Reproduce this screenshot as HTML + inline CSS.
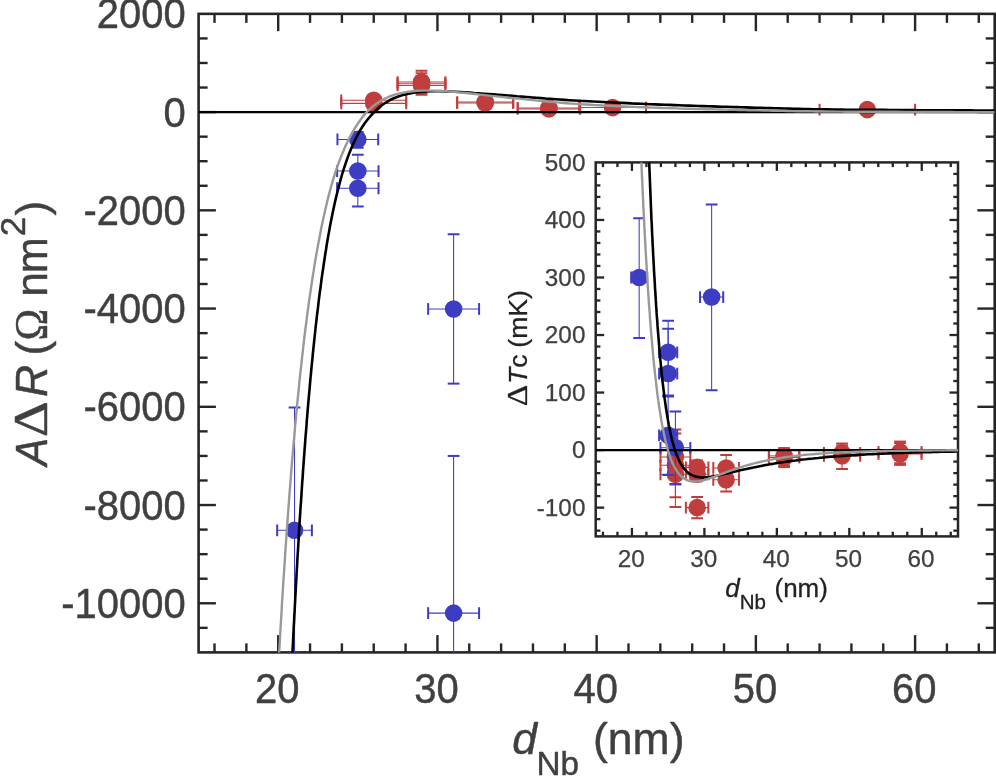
<!DOCTYPE html>
<html lang="en"><head><meta charset="utf-8"><title>A&#916;R versus d_Nb</title>
<style>html,body{margin:0;padding:0;background:#fff;overflow:hidden}svg{display:block}text{font-family:"Liberation Sans", sans-serif;fill:#404040;stroke:#404040;stroke-width:.45px;stroke-linejoin:round}.in text,text.in{stroke-width:.25px}.ib text,text.ib{fill:#222;stroke:#222;stroke-width:.3px}</style></head><body>
<svg width="996" height="776" viewBox="0 0 996 776">
<rect width="996" height="776" fill="#fff"/>
<defs><clipPath id="cm"><rect x="198.6" y="13.86" width="796.1" height="638.54"/></clipPath>
<clipPath id="ci"><rect x="595.7" y="162.4" width="362.3" height="374"/></clipPath></defs>
<g stroke="#262626" stroke-width="2.4"><line x1="214.52" y1="652.4" x2="214.52" y2="643.4"/><line x1="214.52" y1="13.86" x2="214.52" y2="22.86"/><line x1="246.37" y1="652.4" x2="246.37" y2="643.4"/><line x1="246.37" y1="13.86" x2="246.37" y2="22.86"/><line x1="310.05" y1="652.4" x2="310.05" y2="643.4"/><line x1="310.05" y1="13.86" x2="310.05" y2="22.86"/><line x1="341.9" y1="652.4" x2="341.9" y2="643.4"/><line x1="341.9" y1="13.86" x2="341.9" y2="22.86"/><line x1="373.74" y1="652.4" x2="373.74" y2="643.4"/><line x1="373.74" y1="13.86" x2="373.74" y2="22.86"/><line x1="405.59" y1="652.4" x2="405.59" y2="643.4"/><line x1="405.59" y1="13.86" x2="405.59" y2="22.86"/><line x1="469.27" y1="652.4" x2="469.27" y2="643.4"/><line x1="469.27" y1="13.86" x2="469.27" y2="22.86"/><line x1="501.12" y1="652.4" x2="501.12" y2="643.4"/><line x1="501.12" y1="13.86" x2="501.12" y2="22.86"/><line x1="532.96" y1="652.4" x2="532.96" y2="643.4"/><line x1="532.96" y1="13.86" x2="532.96" y2="22.86"/><line x1="564.81" y1="652.4" x2="564.81" y2="643.4"/><line x1="564.81" y1="13.86" x2="564.81" y2="22.86"/><line x1="628.49" y1="652.4" x2="628.49" y2="643.4"/><line x1="628.49" y1="13.86" x2="628.49" y2="22.86"/><line x1="660.34" y1="652.4" x2="660.34" y2="643.4"/><line x1="660.34" y1="13.86" x2="660.34" y2="22.86"/><line x1="692.18" y1="652.4" x2="692.18" y2="643.4"/><line x1="692.18" y1="13.86" x2="692.18" y2="22.86"/><line x1="724.03" y1="652.4" x2="724.03" y2="643.4"/><line x1="724.03" y1="13.86" x2="724.03" y2="22.86"/><line x1="787.71" y1="652.4" x2="787.71" y2="643.4"/><line x1="787.71" y1="13.86" x2="787.71" y2="22.86"/><line x1="819.56" y1="652.4" x2="819.56" y2="643.4"/><line x1="819.56" y1="13.86" x2="819.56" y2="22.86"/><line x1="851.4" y1="652.4" x2="851.4" y2="643.4"/><line x1="851.4" y1="13.86" x2="851.4" y2="22.86"/><line x1="883.25" y1="652.4" x2="883.25" y2="643.4"/><line x1="883.25" y1="13.86" x2="883.25" y2="22.86"/><line x1="946.93" y1="652.4" x2="946.93" y2="643.4"/><line x1="946.93" y1="13.86" x2="946.93" y2="22.86"/><line x1="978.78" y1="652.4" x2="978.78" y2="643.4"/><line x1="978.78" y1="13.86" x2="978.78" y2="22.86"/><line x1="278.21" y1="652.4" x2="278.21" y2="635.1"/><line x1="278.21" y1="13.86" x2="278.21" y2="31.16"/><line x1="437.43" y1="652.4" x2="437.43" y2="635.1"/><line x1="437.43" y1="13.86" x2="437.43" y2="31.16"/><line x1="596.65" y1="652.4" x2="596.65" y2="635.1"/><line x1="596.65" y1="13.86" x2="596.65" y2="31.16"/><line x1="755.87" y1="652.4" x2="755.87" y2="635.1"/><line x1="755.87" y1="13.86" x2="755.87" y2="31.16"/><line x1="915.09" y1="652.4" x2="915.09" y2="635.1"/><line x1="915.09" y1="13.86" x2="915.09" y2="31.16"/><line x1="198.6" y1="627.84" x2="207.6" y2="627.84"/><line x1="994.7" y1="627.84" x2="985.7" y2="627.84"/><line x1="198.6" y1="578.72" x2="207.6" y2="578.72"/><line x1="994.7" y1="578.72" x2="985.7" y2="578.72"/><line x1="198.6" y1="554.16" x2="207.6" y2="554.16"/><line x1="994.7" y1="554.16" x2="985.7" y2="554.16"/><line x1="198.6" y1="529.6" x2="207.6" y2="529.6"/><line x1="994.7" y1="529.6" x2="985.7" y2="529.6"/><line x1="198.6" y1="480.49" x2="207.6" y2="480.49"/><line x1="994.7" y1="480.49" x2="985.7" y2="480.49"/><line x1="198.6" y1="455.93" x2="207.6" y2="455.93"/><line x1="994.7" y1="455.93" x2="985.7" y2="455.93"/><line x1="198.6" y1="431.37" x2="207.6" y2="431.37"/><line x1="994.7" y1="431.37" x2="985.7" y2="431.37"/><line x1="198.6" y1="382.25" x2="207.6" y2="382.25"/><line x1="994.7" y1="382.25" x2="985.7" y2="382.25"/><line x1="198.6" y1="357.69" x2="207.6" y2="357.69"/><line x1="994.7" y1="357.69" x2="985.7" y2="357.69"/><line x1="198.6" y1="333.13" x2="207.6" y2="333.13"/><line x1="994.7" y1="333.13" x2="985.7" y2="333.13"/><line x1="198.6" y1="284.01" x2="207.6" y2="284.01"/><line x1="994.7" y1="284.01" x2="985.7" y2="284.01"/><line x1="198.6" y1="259.45" x2="207.6" y2="259.45"/><line x1="994.7" y1="259.45" x2="985.7" y2="259.45"/><line x1="198.6" y1="234.89" x2="207.6" y2="234.89"/><line x1="994.7" y1="234.89" x2="985.7" y2="234.89"/><line x1="198.6" y1="185.77" x2="207.6" y2="185.77"/><line x1="994.7" y1="185.77" x2="985.7" y2="185.77"/><line x1="198.6" y1="161.22" x2="207.6" y2="161.22"/><line x1="994.7" y1="161.22" x2="985.7" y2="161.22"/><line x1="198.6" y1="136.66" x2="207.6" y2="136.66"/><line x1="994.7" y1="136.66" x2="985.7" y2="136.66"/><line x1="198.6" y1="87.54" x2="207.6" y2="87.54"/><line x1="994.7" y1="87.54" x2="985.7" y2="87.54"/><line x1="198.6" y1="62.98" x2="207.6" y2="62.98"/><line x1="994.7" y1="62.98" x2="985.7" y2="62.98"/><line x1="198.6" y1="38.42" x2="207.6" y2="38.42"/><line x1="994.7" y1="38.42" x2="985.7" y2="38.42"/><line x1="198.6" y1="603.28" x2="215.9" y2="603.28"/><line x1="994.7" y1="603.28" x2="977.4" y2="603.28"/><line x1="198.6" y1="505.04" x2="215.9" y2="505.04"/><line x1="994.7" y1="505.04" x2="977.4" y2="505.04"/><line x1="198.6" y1="406.81" x2="215.9" y2="406.81"/><line x1="994.7" y1="406.81" x2="977.4" y2="406.81"/><line x1="198.6" y1="308.57" x2="215.9" y2="308.57"/><line x1="994.7" y1="308.57" x2="977.4" y2="308.57"/><line x1="198.6" y1="210.33" x2="215.9" y2="210.33"/><line x1="994.7" y1="210.33" x2="977.4" y2="210.33"/><line x1="198.6" y1="112.1" x2="215.9" y2="112.1"/><line x1="994.7" y1="112.1" x2="977.4" y2="112.1"/></g>
<rect x="198.6" y="13.86" width="796.1" height="638.54" fill="none" stroke="#262626" stroke-width="2.6"/>
<g clip-path="url(#cm)">
<line x1="341.26" y1="100.31" x2="406.22" y2="100.31" stroke="#c03d3d" stroke-width="1.05"/><line x1="341.26" y1="94.41" x2="341.26" y2="106.21" stroke="#c03d3d" stroke-width="2.0"/><line x1="406.22" y1="94.41" x2="406.22" y2="106.21" stroke="#c03d3d" stroke-width="2.0"/><line x1="373.74" y1="97.36" x2="373.74" y2="103.26" stroke="#c03d3d" stroke-width="1.05"/><line x1="367.84" y1="97.36" x2="379.64" y2="97.36" stroke="#c03d3d" stroke-width="2.0"/><line x1="367.84" y1="103.26" x2="379.64" y2="103.26" stroke="#c03d3d" stroke-width="2.0"/>
<line x1="341.26" y1="103.35" x2="406.22" y2="103.35" stroke="#c03d3d" stroke-width="1.05"/><line x1="341.26" y1="97.45" x2="341.26" y2="109.25" stroke="#c03d3d" stroke-width="2.0"/><line x1="406.22" y1="97.45" x2="406.22" y2="109.25" stroke="#c03d3d" stroke-width="2.0"/><line x1="373.74" y1="100.41" x2="373.74" y2="106.3" stroke="#c03d3d" stroke-width="1.05"/><line x1="367.84" y1="100.41" x2="379.64" y2="100.41" stroke="#c03d3d" stroke-width="2.0"/><line x1="367.84" y1="106.3" x2="379.64" y2="106.3" stroke="#c03d3d" stroke-width="2.0"/>
<line x1="397.62" y1="82.04" x2="445.39" y2="82.04" stroke="#c03d3d" stroke-width="1.05"/><line x1="397.62" y1="76.14" x2="397.62" y2="87.94" stroke="#c03d3d" stroke-width="2.0"/><line x1="445.39" y1="76.14" x2="445.39" y2="87.94" stroke="#c03d3d" stroke-width="2.0"/><line x1="421.51" y1="70.84" x2="421.51" y2="91.37" stroke="#c03d3d" stroke-width="1.05"/><line x1="415.61" y1="70.84" x2="427.41" y2="70.84" stroke="#c03d3d" stroke-width="2.0"/><line x1="415.61" y1="91.37" x2="427.41" y2="91.37" stroke="#c03d3d" stroke-width="2.0"/>
<line x1="397.62" y1="83.71" x2="445.39" y2="83.71" stroke="#c03d3d" stroke-width="1.05"/><line x1="397.62" y1="77.81" x2="397.62" y2="89.61" stroke="#c03d3d" stroke-width="2.0"/><line x1="445.39" y1="77.81" x2="445.39" y2="89.61" stroke="#c03d3d" stroke-width="2.0"/><line x1="421.51" y1="73.15" x2="421.51" y2="93.04" stroke="#c03d3d" stroke-width="1.05"/><line x1="415.61" y1="73.15" x2="427.41" y2="73.15" stroke="#c03d3d" stroke-width="2.0"/><line x1="415.61" y1="93.04" x2="427.41" y2="93.04" stroke="#c03d3d" stroke-width="2.0"/>
<line x1="397.62" y1="85.43" x2="445.39" y2="85.43" stroke="#c03d3d" stroke-width="1.05"/><line x1="397.62" y1="79.53" x2="397.62" y2="91.33" stroke="#c03d3d" stroke-width="2.0"/><line x1="445.39" y1="79.53" x2="445.39" y2="91.33" stroke="#c03d3d" stroke-width="2.0"/><line x1="421.51" y1="76.09" x2="421.51" y2="94.76" stroke="#c03d3d" stroke-width="1.05"/><line x1="415.61" y1="76.09" x2="427.41" y2="76.09" stroke="#c03d3d" stroke-width="2.0"/><line x1="415.61" y1="94.76" x2="427.41" y2="94.76" stroke="#c03d3d" stroke-width="2.0"/>
<line x1="457.17" y1="102.03" x2="513.22" y2="102.03" stroke="#c03d3d" stroke-width="1.05"/><line x1="457.17" y1="96.13" x2="457.17" y2="107.93" stroke="#c03d3d" stroke-width="2.0"/><line x1="513.22" y1="96.13" x2="513.22" y2="107.93" stroke="#c03d3d" stroke-width="2.0"/><line x1="485.2" y1="100.06" x2="485.2" y2="103.99" stroke="#c03d3d" stroke-width="1.05"/><line x1="479.3" y1="100.06" x2="491.1" y2="100.06" stroke="#c03d3d" stroke-width="2.0"/><line x1="479.3" y1="103.99" x2="491.1" y2="103.99" stroke="#c03d3d" stroke-width="2.0"/>
<line x1="457.17" y1="103.01" x2="513.22" y2="103.01" stroke="#c03d3d" stroke-width="1.05"/><line x1="457.17" y1="97.11" x2="457.17" y2="108.91" stroke="#c03d3d" stroke-width="2.0"/><line x1="513.22" y1="97.11" x2="513.22" y2="108.91" stroke="#c03d3d" stroke-width="2.0"/><line x1="485.2" y1="101.05" x2="485.2" y2="104.97" stroke="#c03d3d" stroke-width="1.05"/><line x1="479.3" y1="101.05" x2="491.1" y2="101.05" stroke="#c03d3d" stroke-width="2.0"/><line x1="479.3" y1="104.97" x2="491.1" y2="104.97" stroke="#c03d3d" stroke-width="2.0"/>
<line x1="517.68" y1="107.92" x2="580.09" y2="107.92" stroke="#c03d3d" stroke-width="1.05"/><line x1="517.68" y1="102.02" x2="517.68" y2="113.82" stroke="#c03d3d" stroke-width="2.0"/><line x1="580.09" y1="102.02" x2="580.09" y2="113.82" stroke="#c03d3d" stroke-width="2.0"/><line x1="548.88" y1="106.45" x2="548.88" y2="109.4" stroke="#c03d3d" stroke-width="1.05"/><line x1="542.98" y1="106.45" x2="554.78" y2="106.45" stroke="#c03d3d" stroke-width="2.0"/><line x1="542.98" y1="109.4" x2="554.78" y2="109.4" stroke="#c03d3d" stroke-width="2.0"/>
<line x1="517.68" y1="108.9" x2="580.09" y2="108.9" stroke="#c03d3d" stroke-width="1.05"/><line x1="517.68" y1="103" x2="517.68" y2="114.8" stroke="#c03d3d" stroke-width="2.0"/><line x1="580.09" y1="103" x2="580.09" y2="114.8" stroke="#c03d3d" stroke-width="2.0"/><line x1="548.88" y1="107.43" x2="548.88" y2="110.38" stroke="#c03d3d" stroke-width="1.05"/><line x1="542.98" y1="107.43" x2="554.78" y2="107.43" stroke="#c03d3d" stroke-width="2.0"/><line x1="542.98" y1="110.38" x2="554.78" y2="110.38" stroke="#c03d3d" stroke-width="2.0"/>
<line x1="579.14" y1="107.58" x2="646.01" y2="107.58" stroke="#c03d3d" stroke-width="1.05"/><line x1="579.14" y1="101.68" x2="579.14" y2="113.48" stroke="#c03d3d" stroke-width="2.0"/><line x1="646.01" y1="101.68" x2="646.01" y2="113.48" stroke="#c03d3d" stroke-width="2.0"/><line x1="612.57" y1="106.1" x2="612.57" y2="109.05" stroke="#c03d3d" stroke-width="1.05"/><line x1="606.67" y1="106.1" x2="618.47" y2="106.1" stroke="#c03d3d" stroke-width="2.0"/><line x1="606.67" y1="109.05" x2="618.47" y2="109.05" stroke="#c03d3d" stroke-width="2.0"/>
<line x1="819.56" y1="109.64" x2="915.09" y2="109.64" stroke="#c03d3d" stroke-width="1.05"/><line x1="819.56" y1="103.74" x2="819.56" y2="115.54" stroke="#c03d3d" stroke-width="2.0"/><line x1="915.09" y1="103.74" x2="915.09" y2="115.54" stroke="#c03d3d" stroke-width="2.0"/><line x1="867.32" y1="108.17" x2="867.32" y2="111.11" stroke="#c03d3d" stroke-width="1.05"/><line x1="861.42" y1="108.17" x2="873.22" y2="108.17" stroke="#c03d3d" stroke-width="2.0"/><line x1="861.42" y1="111.11" x2="873.22" y2="111.11" stroke="#c03d3d" stroke-width="2.0"/>
<circle cx="373.74" cy="100.31" r="8.8" fill="#c03d3d"/>
<circle cx="373.74" cy="103.35" r="8.8" fill="#c03d3d"/>
<circle cx="421.51" cy="82.04" r="8.8" fill="#c03d3d"/>
<circle cx="421.51" cy="83.71" r="8.8" fill="#c03d3d"/>
<circle cx="421.51" cy="85.43" r="8.8" fill="#c03d3d"/>
<circle cx="485.2" cy="102.03" r="8.8" fill="#c03d3d"/>
<circle cx="485.2" cy="103.01" r="8.8" fill="#c03d3d"/>
<circle cx="548.88" cy="107.92" r="8.8" fill="#c03d3d"/>
<circle cx="548.88" cy="108.9" r="8.8" fill="#c03d3d"/>
<circle cx="612.57" cy="107.58" r="8.8" fill="#c03d3d"/>
<circle cx="867.32" cy="109.64" r="8.8" fill="#c03d3d"/>
<line x1="277.18" y1="530.29" x2="311.89" y2="530.29" stroke="#3d3dc4" stroke-width="1.05"/><line x1="277.18" y1="524.39" x2="277.18" y2="536.19" stroke="#3d3dc4" stroke-width="2.0"/><line x1="311.89" y1="524.39" x2="311.89" y2="536.19" stroke="#3d3dc4" stroke-width="2.0"/><line x1="294.53" y1="407.5" x2="294.53" y2="653.09" stroke="#3d3dc4" stroke-width="1.05"/><line x1="288.63" y1="407.5" x2="300.43" y2="407.5" stroke="#3d3dc4" stroke-width="2.0"/><line x1="288.63" y1="653.09" x2="300.43" y2="653.09" stroke="#3d3dc4" stroke-width="2.0"/>
<line x1="337.44" y1="139.41" x2="378.2" y2="139.41" stroke="#3d3dc4" stroke-width="1.05"/><line x1="337.44" y1="133.51" x2="337.44" y2="145.31" stroke="#3d3dc4" stroke-width="2.0"/><line x1="378.2" y1="133.51" x2="378.2" y2="145.31" stroke="#3d3dc4" stroke-width="2.0"/><line x1="357.82" y1="132.04" x2="357.82" y2="147.76" stroke="#3d3dc4" stroke-width="1.05"/><line x1="351.92" y1="132.04" x2="363.72" y2="132.04" stroke="#3d3dc4" stroke-width="2.0"/><line x1="351.92" y1="147.76" x2="363.72" y2="147.76" stroke="#3d3dc4" stroke-width="2.0"/>
<line x1="337.12" y1="171.04" x2="378.52" y2="171.04" stroke="#3d3dc4" stroke-width="1.05"/><line x1="337.12" y1="165.14" x2="337.12" y2="176.94" stroke="#3d3dc4" stroke-width="2.0"/><line x1="378.52" y1="165.14" x2="378.52" y2="176.94" stroke="#3d3dc4" stroke-width="2.0"/><line x1="357.82" y1="154.83" x2="357.82" y2="187.25" stroke="#3d3dc4" stroke-width="1.05"/><line x1="351.92" y1="154.83" x2="363.72" y2="154.83" stroke="#3d3dc4" stroke-width="2.0"/><line x1="351.92" y1="187.25" x2="363.72" y2="187.25" stroke="#3d3dc4" stroke-width="2.0"/>
<line x1="337.12" y1="188.23" x2="378.52" y2="188.23" stroke="#3d3dc4" stroke-width="1.05"/><line x1="337.12" y1="182.33" x2="337.12" y2="194.13" stroke="#3d3dc4" stroke-width="2.0"/><line x1="378.52" y1="182.33" x2="378.52" y2="194.13" stroke="#3d3dc4" stroke-width="2.0"/><line x1="357.82" y1="170.06" x2="357.82" y2="206.4" stroke="#3d3dc4" stroke-width="1.05"/><line x1="351.92" y1="170.06" x2="363.72" y2="170.06" stroke="#3d3dc4" stroke-width="2.0"/><line x1="351.92" y1="206.4" x2="363.72" y2="206.4" stroke="#3d3dc4" stroke-width="2.0"/>
<line x1="428.13" y1="308.96" x2="479.08" y2="308.96" stroke="#3d3dc4" stroke-width="1.05"/><line x1="428.13" y1="303.06" x2="428.13" y2="314.86" stroke="#3d3dc4" stroke-width="2.0"/><line x1="479.08" y1="303.06" x2="479.08" y2="314.86" stroke="#3d3dc4" stroke-width="2.0"/><line x1="453.61" y1="234.3" x2="453.61" y2="383.62" stroke="#3d3dc4" stroke-width="1.05"/><line x1="447.71" y1="234.3" x2="459.51" y2="234.3" stroke="#3d3dc4" stroke-width="2.0"/><line x1="447.71" y1="383.62" x2="459.51" y2="383.62" stroke="#3d3dc4" stroke-width="2.0"/>
<line x1="428.13" y1="613.11" x2="479.08" y2="613.11" stroke="#3d3dc4" stroke-width="1.05"/><line x1="428.13" y1="607.21" x2="428.13" y2="619.01" stroke="#3d3dc4" stroke-width="2.0"/><line x1="479.08" y1="607.21" x2="479.08" y2="619.01" stroke="#3d3dc4" stroke-width="2.0"/><line x1="453.61" y1="455.93" x2="453.61" y2="770.28" stroke="#3d3dc4" stroke-width="1.05"/><line x1="447.71" y1="455.93" x2="459.51" y2="455.93" stroke="#3d3dc4" stroke-width="2.0"/><line x1="447.71" y1="770.28" x2="459.51" y2="770.28" stroke="#3d3dc4" stroke-width="2.0"/>
<circle cx="294.53" cy="530.29" r="8.8" fill="#3d3dc4"/>
<circle cx="357.82" cy="139.41" r="8.8" fill="#3d3dc4"/>
<circle cx="357.82" cy="171.04" r="8.8" fill="#3d3dc4"/>
<circle cx="357.82" cy="188.23" r="8.8" fill="#3d3dc4"/>
<circle cx="453.61" cy="308.96" r="8.8" fill="#3d3dc4"/>
<circle cx="453.61" cy="613.11" r="8.8" fill="#3d3dc4"/>
<line x1="198.6" y1="112.1" x2="994.7" y2="112.1" stroke="#000" stroke-width="2.2"/>
<path d="M289.8,711.8 L290.0,707.0 L290.2,702.2 L290.4,697.5 L290.6,692.7 L290.8,687.9 L291.0,683.1 L291.3,678.4 L291.5,673.6 L291.7,668.8 L291.9,664.0 L292.2,659.3 L292.4,654.5 L292.6,649.7 L292.9,644.9 L293.1,640.2 L293.3,635.4 L293.6,630.6 L293.8,625.8 L294.1,621.1 L294.3,616.3 L294.6,611.5 L294.8,606.8 L295.1,602.0 L295.3,597.2 L295.6,592.4 L295.8,587.7 L296.1,582.9 L296.4,578.1 L296.6,573.3 L296.9,568.6 L297.2,563.8 L297.4,559.0 L297.7,554.3 L298.0,549.5 L298.3,544.7 L298.6,539.9 L298.8,535.2 L299.1,530.4 L299.4,525.6 L299.7,520.9 L300.0,516.1 L300.3,511.3 L300.6,506.5 L301.0,501.8 L301.3,497.0 L301.6,492.2 L301.9,487.5 L302.2,482.7 L302.6,477.9 L302.9,473.2 L303.2,468.4 L303.6,463.6 L303.9,458.9 L304.3,454.1 L304.6,449.3 L305.0,444.6 L305.3,439.8 L305.7,435.0 L306.1,430.3 L306.5,425.5 L306.8,420.7 L307.2,416.0 L307.6,411.2 L308.0,406.4 L308.4,401.7 L308.8,396.9 L309.3,392.2 L309.7,387.4 L310.1,382.6 L310.5,377.9 L311.0,373.1 L311.4,368.4 L311.9,363.6 L312.4,358.8 L312.8,354.1 L313.3,349.3 L313.8,344.6 L314.3,339.8 L314.8,335.1 L315.3,330.3 L315.8,325.6 L316.4,320.8 L316.9,316.1 L317.5,311.3 L318.1,306.6 L318.6,301.8 L319.2,297.1 L319.8,292.3 L320.5,287.6 L321.1,282.9 L321.7,278.1 L322.4,273.4 L323.1,268.7 L323.8,263.9 L324.5,259.2 L325.2,254.5 L326.0,249.8 L326.7,245.0 L327.5,240.3 L328.3,235.6 L329.2,230.9 L330.0,226.2 L330.9,221.5 L331.9,216.8 L332.8,212.1 L333.8,207.5 L334.8,202.8 L335.9,198.1 L337.0,193.5 L338.2,188.9 L339.4,184.2 L340.6,179.6 L341.9,175.0 L343.3,170.4 L344.8,165.9 L346.3,161.4 L347.9,156.9 L349.6,152.4 L351.4,148.0 L353.3,143.6 L355.4,139.3 L357.6,135.0 L359.9,130.8 L362.4,126.8 L365.1,122.8 L368.0,119.0 L371.1,115.4 L374.4,111.9 L377.8,108.6 L381.5,105.5 L385.4,102.8 L389.5,100.3 L393.8,98.3 L398.3,96.5 L402.8,95.1 L407.4,93.9 L412.1,93.0 L416.9,92.3 L421.6,91.9 L426.4,91.5 L431.2,91.3 L436.0,91.3 L440.7,91.3 L445.5,91.4 L450.3,91.6 L455.1,91.8 L459.8,92.0 L464.6,92.3 L469.4,92.6 L474.1,93.0 L478.9,93.3 L483.7,93.7 L488.4,94.0 L493.2,94.4 L498.0,94.8 L502.7,95.1 L507.5,95.5 L512.3,95.9 L517.0,96.3 L521.8,96.6 L526.6,97.0 L531.3,97.4 L536.1,97.7 L540.9,98.1 L545.6,98.5 L550.4,98.8 L555.2,99.2 L559.9,99.5 L564.7,99.9 L569.5,100.2 L574.2,100.5 L579.0,100.8 L583.8,101.0 L588.6,101.3 L593.3,101.5 L598.1,101.8 L602.9,102.0 L607.7,102.2 L612.4,102.4 L617.2,102.7 L622.0,102.9 L626.8,103.1 L631.5,103.4 L636.3,103.6 L641.1,103.8 L645.9,104.0 L650.6,104.2 L655.4,104.4 L660.2,104.6 L665.0,104.8 L669.7,104.9 L674.5,105.1 L679.3,105.3 L684.1,105.5 L688.8,105.6 L693.6,105.8 L698.4,106.0 L703.2,106.1 L708.0,106.3 L712.7,106.4 L717.5,106.6 L722.3,106.7 L727.1,106.8 L731.8,107.0 L736.6,107.1 L741.4,107.3 L746.2,107.4 L751.0,107.6 L755.7,107.7 L760.5,107.8 L765.3,108.0 L770.1,108.1 L774.8,108.3 L779.6,108.4 L784.4,108.5 L789.2,108.6 L794.0,108.8 L798.7,108.9 L803.5,109.0 L808.3,109.1 L813.1,109.2 L817.8,109.3 L822.6,109.4 L827.4,109.4 L832.2,109.5 L837.0,109.6 L841.7,109.6 L846.5,109.7 L851.3,109.7 L856.1,109.7 L860.9,109.8 L865.6,109.8 L870.4,109.8 L875.2,109.9 L880.0,109.9 L884.8,109.9 L889.5,110.0 L894.3,110.0 L899.1,110.0 L903.9,110.1 L908.7,110.1 L913.4,110.1 L918.2,110.2 L923.0,110.2 L927.8,110.2 L932.6,110.2 L937.3,110.3 L942.1,110.3 L946.9,110.3 L951.7,110.3 L956.5,110.4 L961.2,110.4 L966.0,110.4 L970.8,110.4 L975.6,110.5 L980.4,110.5 L985.1,110.5 L989.9,110.5 L994.7,110.6" fill="none" stroke="#000" stroke-width="2.6" stroke-linejoin="round"/>
<path d="M276.0,712.4 L276.2,707.6 L276.5,702.8 L276.7,698.0 L277.0,693.2 L277.2,688.3 L277.5,683.5 L277.7,678.7 L278.0,673.9 L278.2,669.1 L278.5,664.3 L278.8,659.5 L279.0,654.7 L279.3,649.9 L279.6,645.1 L279.9,640.3 L280.1,635.5 L280.4,630.7 L280.7,625.8 L281.0,621.0 L281.3,616.2 L281.6,611.4 L281.8,606.6 L282.1,601.8 L282.4,597.0 L282.7,592.2 L283.0,587.4 L283.3,582.6 L283.6,577.8 L284.0,573.0 L284.3,568.2 L284.6,563.4 L284.9,558.6 L285.2,553.8 L285.5,549.0 L285.9,544.1 L286.2,539.3 L286.5,534.5 L286.9,529.7 L287.2,524.9 L287.6,520.1 L287.9,515.3 L288.3,510.5 L288.6,505.7 L289.0,500.9 L289.3,496.1 L289.7,491.3 L290.1,486.5 L290.5,481.7 L290.8,476.9 L291.2,472.1 L291.6,467.3 L292.0,462.5 L292.4,457.7 L292.8,452.9 L293.2,448.1 L293.6,443.3 L294.1,438.5 L294.5,433.7 L294.9,428.9 L295.3,424.1 L295.8,419.3 L296.2,414.5 L296.7,409.8 L297.1,405.0 L297.6,400.2 L298.1,395.4 L298.6,390.6 L299.0,385.8 L299.5,381.0 L300.0,376.2 L300.5,371.4 L301.1,366.6 L301.6,361.9 L302.1,357.1 L302.7,352.3 L303.2,347.5 L303.8,342.7 L304.3,337.9 L304.9,333.2 L305.5,328.4 L306.1,323.6 L306.7,318.8 L307.3,314.0 L308.0,309.3 L308.6,304.5 L309.3,299.7 L310.0,295.0 L310.7,290.2 L311.4,285.4 L312.1,280.7 L312.8,275.9 L313.6,271.2 L314.3,266.4 L315.1,261.7 L315.9,256.9 L316.7,252.2 L317.6,247.4 L318.5,242.7 L319.4,238.0 L320.3,233.2 L321.2,228.5 L322.2,223.8 L323.2,219.1 L324.2,214.4 L325.3,209.7 L326.4,205.0 L327.5,200.3 L328.7,195.6 L329.9,191.0 L331.2,186.3 L332.5,181.7 L333.9,177.1 L335.3,172.5 L336.9,167.9 L338.5,163.4 L340.2,158.9 L341.9,154.4 L343.8,150.0 L345.7,145.6 L347.8,141.2 L350.0,136.9 L352.3,132.7 L354.7,128.5 L357.3,124.4 L360.0,120.5 L362.8,116.6 L366.0,112.9 L369.3,109.5 L372.9,106.3 L376.8,103.4 L380.8,100.8 L385.0,98.5 L389.4,96.5 L394.0,94.9 L398.6,93.6 L403.3,92.6 L408.1,91.8 L412.8,91.2 L417.6,90.8 L422.4,90.6 L427.3,90.6 L432.1,90.6 L436.9,90.8 L441.7,91.0 L446.5,91.3 L451.3,91.7 L456.1,92.1 L460.9,92.6 L465.7,93.0 L470.5,93.5 L475.3,94.0 L480.1,94.6 L484.8,95.1 L489.6,95.6 L494.4,96.1 L499.2,96.6 L504.0,97.1 L508.8,97.7 L513.6,98.2 L518.4,98.6 L523.2,99.1 L527.9,99.6 L532.7,100.1 L537.5,100.6 L542.3,101.0 L547.1,101.5 L551.9,101.9 L556.7,102.4 L561.5,102.8 L566.3,103.2 L571.1,103.6 L575.9,103.9 L580.7,104.2 L585.5,104.5 L590.3,104.8 L595.1,105.1 L599.9,105.3 L604.7,105.6 L609.6,105.8 L614.4,106.0 L619.2,106.2 L624.0,106.5 L628.8,106.7 L633.6,106.9 L638.4,107.1 L643.2,107.3 L648.0,107.5 L652.9,107.6 L657.7,107.8 L662.5,108.0 L667.3,108.1 L672.1,108.3 L676.9,108.4 L681.7,108.6 L686.5,108.7 L691.4,108.8 L696.2,109.0 L701.0,109.1 L705.8,109.2 L710.6,109.3 L715.4,109.4 L720.2,109.5 L725.1,109.6 L729.9,109.8 L734.7,109.9 L739.5,110.0 L744.3,110.1 L749.1,110.2 L753.9,110.3 L758.8,110.4 L763.6,110.5 L768.4,110.6 L773.2,110.7 L778.0,110.8 L782.8,110.9 L787.6,111.0 L792.5,111.1 L797.3,111.2 L802.1,111.3 L806.9,111.4 L811.7,111.4 L816.5,111.5 L821.3,111.5 L826.2,111.6 L831.0,111.6 L835.8,111.6 L840.6,111.6 L845.4,111.7 L850.2,111.7 L855.1,111.7 L859.9,111.7 L864.7,111.7 L869.5,111.7 L874.3,111.8 L879.1,111.8 L883.9,111.8 L888.8,111.8 L893.6,111.8 L898.4,111.8 L903.2,111.9 L908.0,111.9 L912.8,111.9 L917.7,111.9 L922.5,111.9 L927.3,112.0 L932.1,112.0 L936.9,112.0 L941.7,112.0 L946.5,112.0 L951.4,112.0 L956.2,112.1 L961.0,112.1 L965.8,112.1 L970.6,112.1 L975.4,112.1 L980.3,112.1 L985.1,112.1 L989.9,112.1 L994.7,112.2" fill="none" stroke="#999999" stroke-width="2.4" stroke-linejoin="round"/>
</g>
<text transform="translate(277.31,703) scale(0.95,1)" font-size="42.1" text-anchor="middle">20</text>
<text transform="translate(436.53,703) scale(0.95,1)" font-size="42.1" text-anchor="middle">30</text>
<text transform="translate(595.75,703) scale(0.95,1)" font-size="42.1" text-anchor="middle">40</text>
<text transform="translate(754.97,703) scale(0.95,1)" font-size="42.1" text-anchor="middle">50</text>
<text transform="translate(914.19,703) scale(0.95,1)" font-size="42.1" text-anchor="middle">60</text>
<text transform="translate(185.8,28.36) scale(0.95,1)" font-size="42.1" text-anchor="end">2000</text>
<text transform="translate(185.8,126.6) scale(0.95,1)" font-size="42.1" text-anchor="end">0</text>
<text transform="translate(185.8,224.83) scale(0.95,1)" font-size="42.1" text-anchor="end">-2000</text>
<text transform="translate(185.8,323.07) scale(0.95,1)" font-size="42.1" text-anchor="end">-4000</text>
<text transform="translate(185.8,421.31) scale(0.95,1)" font-size="42.1" text-anchor="end">-6000</text>
<text transform="translate(185.8,519.54) scale(0.95,1)" font-size="42.1" text-anchor="end">-8000</text>
<text transform="translate(185.8,617.78) scale(0.95,1)" font-size="42.1" text-anchor="end">-10000</text>
<text x="512.3" y="753.8" font-size="44.5"><tspan font-style="italic">d</tspan><tspan font-size="33.3" dy="21" dx="-0.5">Nb</tspan><tspan dy="-21" dx="1.5"> (nm)</tspan></text>
<g transform="translate(47.2,0) rotate(-90)" font-size="44.5">
<text transform="translate(-465.7,0) scale(0.94,1)" x="0" y="0" font-style="italic">A</text>
<text transform="translate(-437.3,0) scale(1.18,1)" x="0" y="0" font-size="47.5" style="font-family:'Liberation Serif','DejaVu Serif',serif">&#916;</text>
<text x="-397" y="0" font-style="italic">R</text>
<text x="-355.5" y="0">(</text>
<text transform="translate(-340.6,0) scale(0.94,1)" x="0" y="0" font-size="45.5" style="font-family:'Liberation Serif','DejaVu Serif',serif">&#937;</text>
<text x="-296.8" y="0">n</text>
<text transform="translate(-273.2,0) scale(0.97,1)" x="0" y="0">m</text>
<text x="-236.3" y="-22.2" font-size="35">2</text>
<text x="-215.5" y="0">)</text>
</g>
<rect x="595.7" y="162.4" width="362.3" height="374" fill="#fff"/>
<g stroke="#262626" stroke-width="2.3"><line x1="602.95" y1="536.4" x2="602.95" y2="531.7"/><line x1="602.95" y1="162.4" x2="602.95" y2="167.1"/><line x1="617.44" y1="536.4" x2="617.44" y2="531.7"/><line x1="617.44" y1="162.4" x2="617.44" y2="167.1"/><line x1="646.42" y1="536.4" x2="646.42" y2="531.7"/><line x1="646.42" y1="162.4" x2="646.42" y2="167.1"/><line x1="660.91" y1="536.4" x2="660.91" y2="531.7"/><line x1="660.91" y1="162.4" x2="660.91" y2="167.1"/><line x1="675.41" y1="536.4" x2="675.41" y2="531.7"/><line x1="675.41" y1="162.4" x2="675.41" y2="167.1"/><line x1="689.9" y1="536.4" x2="689.9" y2="531.7"/><line x1="689.9" y1="162.4" x2="689.9" y2="167.1"/><line x1="718.88" y1="536.4" x2="718.88" y2="531.7"/><line x1="718.88" y1="162.4" x2="718.88" y2="167.1"/><line x1="733.37" y1="536.4" x2="733.37" y2="531.7"/><line x1="733.37" y1="162.4" x2="733.37" y2="167.1"/><line x1="747.87" y1="536.4" x2="747.87" y2="531.7"/><line x1="747.87" y1="162.4" x2="747.87" y2="167.1"/><line x1="762.36" y1="536.4" x2="762.36" y2="531.7"/><line x1="762.36" y1="162.4" x2="762.36" y2="167.1"/><line x1="791.34" y1="536.4" x2="791.34" y2="531.7"/><line x1="791.34" y1="162.4" x2="791.34" y2="167.1"/><line x1="805.83" y1="536.4" x2="805.83" y2="531.7"/><line x1="805.83" y1="162.4" x2="805.83" y2="167.1"/><line x1="820.33" y1="536.4" x2="820.33" y2="531.7"/><line x1="820.33" y1="162.4" x2="820.33" y2="167.1"/><line x1="834.82" y1="536.4" x2="834.82" y2="531.7"/><line x1="834.82" y1="162.4" x2="834.82" y2="167.1"/><line x1="863.8" y1="536.4" x2="863.8" y2="531.7"/><line x1="863.8" y1="162.4" x2="863.8" y2="167.1"/><line x1="878.29" y1="536.4" x2="878.29" y2="531.7"/><line x1="878.29" y1="162.4" x2="878.29" y2="167.1"/><line x1="892.79" y1="536.4" x2="892.79" y2="531.7"/><line x1="892.79" y1="162.4" x2="892.79" y2="167.1"/><line x1="907.28" y1="536.4" x2="907.28" y2="531.7"/><line x1="907.28" y1="162.4" x2="907.28" y2="167.1"/><line x1="936.26" y1="536.4" x2="936.26" y2="531.7"/><line x1="936.26" y1="162.4" x2="936.26" y2="167.1"/><line x1="950.75" y1="536.4" x2="950.75" y2="531.7"/><line x1="950.75" y1="162.4" x2="950.75" y2="167.1"/><line x1="631.93" y1="536.4" x2="631.93" y2="527.9"/><line x1="631.93" y1="162.4" x2="631.93" y2="170.9"/><line x1="704.39" y1="536.4" x2="704.39" y2="527.9"/><line x1="704.39" y1="162.4" x2="704.39" y2="170.9"/><line x1="776.85" y1="536.4" x2="776.85" y2="527.9"/><line x1="776.85" y1="162.4" x2="776.85" y2="170.9"/><line x1="849.31" y1="536.4" x2="849.31" y2="527.9"/><line x1="849.31" y1="162.4" x2="849.31" y2="170.9"/><line x1="921.77" y1="536.4" x2="921.77" y2="527.9"/><line x1="921.77" y1="162.4" x2="921.77" y2="170.9"/><line x1="595.7" y1="530.65" x2="600.4" y2="530.65"/><line x1="958" y1="530.65" x2="953.3" y2="530.65"/><line x1="595.7" y1="519.14" x2="600.4" y2="519.14"/><line x1="958" y1="519.14" x2="953.3" y2="519.14"/><line x1="595.7" y1="496.12" x2="600.4" y2="496.12"/><line x1="958" y1="496.12" x2="953.3" y2="496.12"/><line x1="595.7" y1="484.62" x2="600.4" y2="484.62"/><line x1="958" y1="484.62" x2="953.3" y2="484.62"/><line x1="595.7" y1="473.11" x2="600.4" y2="473.11"/><line x1="958" y1="473.11" x2="953.3" y2="473.11"/><line x1="595.7" y1="461.6" x2="600.4" y2="461.6"/><line x1="958" y1="461.6" x2="953.3" y2="461.6"/><line x1="595.7" y1="438.58" x2="600.4" y2="438.58"/><line x1="958" y1="438.58" x2="953.3" y2="438.58"/><line x1="595.7" y1="427.08" x2="600.4" y2="427.08"/><line x1="958" y1="427.08" x2="953.3" y2="427.08"/><line x1="595.7" y1="415.57" x2="600.4" y2="415.57"/><line x1="958" y1="415.57" x2="953.3" y2="415.57"/><line x1="595.7" y1="404.06" x2="600.4" y2="404.06"/><line x1="958" y1="404.06" x2="953.3" y2="404.06"/><line x1="595.7" y1="381.05" x2="600.4" y2="381.05"/><line x1="958" y1="381.05" x2="953.3" y2="381.05"/><line x1="595.7" y1="369.54" x2="600.4" y2="369.54"/><line x1="958" y1="369.54" x2="953.3" y2="369.54"/><line x1="595.7" y1="358.03" x2="600.4" y2="358.03"/><line x1="958" y1="358.03" x2="953.3" y2="358.03"/><line x1="595.7" y1="346.52" x2="600.4" y2="346.52"/><line x1="958" y1="346.52" x2="953.3" y2="346.52"/><line x1="595.7" y1="323.51" x2="600.4" y2="323.51"/><line x1="958" y1="323.51" x2="953.3" y2="323.51"/><line x1="595.7" y1="312" x2="600.4" y2="312"/><line x1="958" y1="312" x2="953.3" y2="312"/><line x1="595.7" y1="300.49" x2="600.4" y2="300.49"/><line x1="958" y1="300.49" x2="953.3" y2="300.49"/><line x1="595.7" y1="288.98" x2="600.4" y2="288.98"/><line x1="958" y1="288.98" x2="953.3" y2="288.98"/><line x1="595.7" y1="265.97" x2="600.4" y2="265.97"/><line x1="958" y1="265.97" x2="953.3" y2="265.97"/><line x1="595.7" y1="254.46" x2="600.4" y2="254.46"/><line x1="958" y1="254.46" x2="953.3" y2="254.46"/><line x1="595.7" y1="242.95" x2="600.4" y2="242.95"/><line x1="958" y1="242.95" x2="953.3" y2="242.95"/><line x1="595.7" y1="231.45" x2="600.4" y2="231.45"/><line x1="958" y1="231.45" x2="953.3" y2="231.45"/><line x1="595.7" y1="208.43" x2="600.4" y2="208.43"/><line x1="958" y1="208.43" x2="953.3" y2="208.43"/><line x1="595.7" y1="196.92" x2="600.4" y2="196.92"/><line x1="958" y1="196.92" x2="953.3" y2="196.92"/><line x1="595.7" y1="185.42" x2="600.4" y2="185.42"/><line x1="958" y1="185.42" x2="953.3" y2="185.42"/><line x1="595.7" y1="173.91" x2="600.4" y2="173.91"/><line x1="958" y1="173.91" x2="953.3" y2="173.91"/><line x1="595.7" y1="507.63" x2="604.2" y2="507.63"/><line x1="958" y1="507.63" x2="949.5" y2="507.63"/><line x1="595.7" y1="450.09" x2="604.2" y2="450.09"/><line x1="958" y1="450.09" x2="949.5" y2="450.09"/><line x1="595.7" y1="392.55" x2="604.2" y2="392.55"/><line x1="958" y1="392.55" x2="949.5" y2="392.55"/><line x1="595.7" y1="335.02" x2="604.2" y2="335.02"/><line x1="958" y1="335.02" x2="949.5" y2="335.02"/><line x1="595.7" y1="277.48" x2="604.2" y2="277.48"/><line x1="958" y1="277.48" x2="949.5" y2="277.48"/><line x1="595.7" y1="219.94" x2="604.2" y2="219.94"/><line x1="958" y1="219.94" x2="949.5" y2="219.94"/></g>
<rect x="595.7" y="162.4" width="362.3" height="374" fill="none" stroke="#262626" stroke-width="2.5"/>
<g clip-path="url(#ci)">
<line x1="660.48" y1="457" x2="690.33" y2="457" stroke="#c03d3d" stroke-width="1.05"/><line x1="660.48" y1="451.1" x2="660.48" y2="462.9" stroke="#c03d3d" stroke-width="2.0"/><line x1="690.33" y1="451.1" x2="690.33" y2="462.9" stroke="#c03d3d" stroke-width="2.0"/><line x1="675.41" y1="429.38" x2="675.41" y2="484.62" stroke="#c03d3d" stroke-width="1.05"/><line x1="669.51" y1="429.38" x2="681.31" y2="429.38" stroke="#c03d3d" stroke-width="2.0"/><line x1="669.51" y1="484.62" x2="681.31" y2="484.62" stroke="#c03d3d" stroke-width="2.0"/>
<line x1="660.48" y1="465.34" x2="690.33" y2="465.34" stroke="#c03d3d" stroke-width="1.05"/><line x1="660.48" y1="459.44" x2="660.48" y2="471.24" stroke="#c03d3d" stroke-width="2.0"/><line x1="690.33" y1="459.44" x2="690.33" y2="471.24" stroke="#c03d3d" stroke-width="2.0"/><line x1="675.41" y1="433.41" x2="675.41" y2="497.27" stroke="#c03d3d" stroke-width="1.05"/><line x1="669.51" y1="433.41" x2="681.31" y2="433.41" stroke="#c03d3d" stroke-width="2.0"/><line x1="669.51" y1="497.27" x2="681.31" y2="497.27" stroke="#c03d3d" stroke-width="2.0"/>
<line x1="660.48" y1="474.26" x2="690.33" y2="474.26" stroke="#c03d3d" stroke-width="1.05"/><line x1="660.48" y1="468.36" x2="660.48" y2="480.16" stroke="#c03d3d" stroke-width="2.0"/><line x1="690.33" y1="468.36" x2="690.33" y2="480.16" stroke="#c03d3d" stroke-width="2.0"/><line x1="675.41" y1="441.46" x2="675.41" y2="507.06" stroke="#c03d3d" stroke-width="1.05"/><line x1="669.51" y1="441.46" x2="681.31" y2="441.46" stroke="#c03d3d" stroke-width="2.0"/><line x1="669.51" y1="507.06" x2="681.31" y2="507.06" stroke="#c03d3d" stroke-width="2.0"/>
<line x1="685.91" y1="467.35" x2="708.38" y2="467.35" stroke="#c03d3d" stroke-width="1.05"/><line x1="685.91" y1="461.45" x2="685.91" y2="473.25" stroke="#c03d3d" stroke-width="2.0"/><line x1="708.38" y1="461.45" x2="708.38" y2="473.25" stroke="#c03d3d" stroke-width="2.0"/><line x1="697.14" y1="460.45" x2="697.14" y2="474.26" stroke="#c03d3d" stroke-width="1.05"/><line x1="691.24" y1="460.45" x2="703.04" y2="460.45" stroke="#c03d3d" stroke-width="2.0"/><line x1="691.24" y1="474.26" x2="703.04" y2="474.26" stroke="#c03d3d" stroke-width="2.0"/>
<line x1="685.91" y1="474.26" x2="708.38" y2="474.26" stroke="#c03d3d" stroke-width="1.05"/><line x1="685.91" y1="468.36" x2="685.91" y2="480.16" stroke="#c03d3d" stroke-width="2.0"/><line x1="708.38" y1="468.36" x2="708.38" y2="480.16" stroke="#c03d3d" stroke-width="2.0"/><line x1="697.14" y1="467.35" x2="697.14" y2="481.16" stroke="#c03d3d" stroke-width="1.05"/><line x1="691.24" y1="467.35" x2="703.04" y2="467.35" stroke="#c03d3d" stroke-width="2.0"/><line x1="691.24" y1="481.16" x2="703.04" y2="481.16" stroke="#c03d3d" stroke-width="2.0"/>
<line x1="685.91" y1="507.63" x2="708.38" y2="507.63" stroke="#c03d3d" stroke-width="1.05"/><line x1="685.91" y1="501.73" x2="685.91" y2="513.53" stroke="#c03d3d" stroke-width="2.0"/><line x1="708.38" y1="501.73" x2="708.38" y2="513.53" stroke="#c03d3d" stroke-width="2.0"/><line x1="697.14" y1="496.99" x2="697.14" y2="518.28" stroke="#c03d3d" stroke-width="1.05"/><line x1="691.24" y1="496.99" x2="703.04" y2="496.99" stroke="#c03d3d" stroke-width="2.0"/><line x1="691.24" y1="518.28" x2="703.04" y2="518.28" stroke="#c03d3d" stroke-width="2.0"/>
<line x1="713.3" y1="467.93" x2="738.95" y2="467.93" stroke="#c03d3d" stroke-width="1.05"/><line x1="713.3" y1="462.03" x2="713.3" y2="473.83" stroke="#c03d3d" stroke-width="2.0"/><line x1="738.95" y1="462.03" x2="738.95" y2="473.83" stroke="#c03d3d" stroke-width="2.0"/><line x1="726.13" y1="455.04" x2="726.13" y2="480.59" stroke="#c03d3d" stroke-width="1.05"/><line x1="720.23" y1="455.04" x2="732.03" y2="455.04" stroke="#c03d3d" stroke-width="2.0"/><line x1="720.23" y1="480.59" x2="732.03" y2="480.59" stroke="#c03d3d" stroke-width="2.0"/>
<line x1="713.3" y1="479.84" x2="738.95" y2="479.84" stroke="#c03d3d" stroke-width="1.05"/><line x1="713.3" y1="473.94" x2="713.3" y2="485.74" stroke="#c03d3d" stroke-width="2.0"/><line x1="738.95" y1="473.94" x2="738.95" y2="485.74" stroke="#c03d3d" stroke-width="2.0"/><line x1="726.13" y1="468.33" x2="726.13" y2="491.52" stroke="#c03d3d" stroke-width="1.05"/><line x1="720.23" y1="468.33" x2="732.03" y2="468.33" stroke="#c03d3d" stroke-width="2.0"/><line x1="720.23" y1="491.52" x2="732.03" y2="491.52" stroke="#c03d3d" stroke-width="2.0"/>
<line x1="768.88" y1="455.9" x2="799.31" y2="455.9" stroke="#c03d3d" stroke-width="1.05"/><line x1="768.88" y1="450" x2="768.88" y2="461.8" stroke="#c03d3d" stroke-width="2.0"/><line x1="799.31" y1="450" x2="799.31" y2="461.8" stroke="#c03d3d" stroke-width="2.0"/><line x1="784.1" y1="448.08" x2="784.1" y2="465.69" stroke="#c03d3d" stroke-width="1.05"/><line x1="778.2" y1="448.08" x2="790" y2="448.08" stroke="#c03d3d" stroke-width="2.0"/><line x1="778.2" y1="465.69" x2="790" y2="465.69" stroke="#c03d3d" stroke-width="2.0"/>
<line x1="768.88" y1="457.51" x2="799.31" y2="457.51" stroke="#c03d3d" stroke-width="1.05"/><line x1="768.88" y1="451.61" x2="768.88" y2="463.41" stroke="#c03d3d" stroke-width="2.0"/><line x1="799.31" y1="451.61" x2="799.31" y2="463.41" stroke="#c03d3d" stroke-width="2.0"/><line x1="784.1" y1="448.88" x2="784.1" y2="467.07" stroke="#c03d3d" stroke-width="1.05"/><line x1="778.2" y1="448.88" x2="790" y2="448.88" stroke="#c03d3d" stroke-width="2.0"/><line x1="778.2" y1="467.07" x2="790" y2="467.07" stroke="#c03d3d" stroke-width="2.0"/>
<line x1="823.95" y1="452.91" x2="860.18" y2="452.91" stroke="#c03d3d" stroke-width="1.05"/><line x1="823.95" y1="447.01" x2="823.95" y2="458.81" stroke="#c03d3d" stroke-width="2.0"/><line x1="860.18" y1="447.01" x2="860.18" y2="458.81" stroke="#c03d3d" stroke-width="2.0"/><line x1="842.06" y1="443.53" x2="842.06" y2="459.82" stroke="#c03d3d" stroke-width="1.05"/><line x1="836.16" y1="443.53" x2="847.96" y2="443.53" stroke="#c03d3d" stroke-width="2.0"/><line x1="836.16" y1="459.82" x2="847.96" y2="459.82" stroke="#c03d3d" stroke-width="2.0"/>
<line x1="823.95" y1="455.9" x2="860.18" y2="455.9" stroke="#c03d3d" stroke-width="1.05"/><line x1="823.95" y1="450" x2="823.95" y2="461.8" stroke="#c03d3d" stroke-width="2.0"/><line x1="860.18" y1="450" x2="860.18" y2="461.8" stroke="#c03d3d" stroke-width="2.0"/><line x1="842.06" y1="445.49" x2="842.06" y2="469.02" stroke="#c03d3d" stroke-width="1.05"/><line x1="836.16" y1="445.49" x2="847.96" y2="445.49" stroke="#c03d3d" stroke-width="2.0"/><line x1="836.16" y1="469.02" x2="847.96" y2="469.02" stroke="#c03d3d" stroke-width="2.0"/>
<line x1="878.51" y1="451.88" x2="921.55" y2="451.88" stroke="#c03d3d" stroke-width="1.05"/><line x1="878.51" y1="445.98" x2="878.51" y2="457.78" stroke="#c03d3d" stroke-width="2.0"/><line x1="921.55" y1="445.98" x2="921.55" y2="457.78" stroke="#c03d3d" stroke-width="2.0"/><line x1="900.03" y1="441.58" x2="900.03" y2="463.27" stroke="#c03d3d" stroke-width="1.05"/><line x1="894.13" y1="441.58" x2="905.93" y2="441.58" stroke="#c03d3d" stroke-width="2.0"/><line x1="894.13" y1="463.27" x2="905.93" y2="463.27" stroke="#c03d3d" stroke-width="2.0"/>
<line x1="878.51" y1="454.06" x2="921.55" y2="454.06" stroke="#c03d3d" stroke-width="1.05"/><line x1="878.51" y1="448.16" x2="878.51" y2="459.96" stroke="#c03d3d" stroke-width="2.0"/><line x1="921.55" y1="448.16" x2="921.55" y2="459.96" stroke="#c03d3d" stroke-width="2.0"/><line x1="900.03" y1="443.07" x2="900.03" y2="464.88" stroke="#c03d3d" stroke-width="1.05"/><line x1="894.13" y1="443.07" x2="905.93" y2="443.07" stroke="#c03d3d" stroke-width="2.0"/><line x1="894.13" y1="464.88" x2="905.93" y2="464.88" stroke="#c03d3d" stroke-width="2.0"/>
<circle cx="675.41" cy="457" r="8.8" fill="#c03d3d"/>
<circle cx="675.41" cy="465.34" r="8.8" fill="#c03d3d"/>
<circle cx="675.41" cy="474.26" r="8.8" fill="#c03d3d"/>
<circle cx="697.14" cy="467.35" r="8.8" fill="#c03d3d"/>
<circle cx="697.14" cy="474.26" r="8.8" fill="#c03d3d"/>
<circle cx="697.14" cy="507.63" r="8.8" fill="#c03d3d"/>
<circle cx="726.13" cy="467.93" r="8.8" fill="#c03d3d"/>
<circle cx="726.13" cy="479.84" r="8.8" fill="#c03d3d"/>
<circle cx="784.1" cy="455.9" r="8.8" fill="#c03d3d"/>
<circle cx="784.1" cy="457.51" r="8.8" fill="#c03d3d"/>
<circle cx="842.06" cy="452.91" r="8.8" fill="#c03d3d"/>
<circle cx="842.06" cy="455.9" r="8.8" fill="#c03d3d"/>
<circle cx="900.03" cy="451.88" r="8.8" fill="#c03d3d"/>
<circle cx="900.03" cy="454.06" r="8.8" fill="#c03d3d"/>
<line x1="631.21" y1="277.48" x2="647.15" y2="277.48" stroke="#3d3dc4" stroke-width="1.05"/><line x1="631.21" y1="271.58" x2="631.21" y2="283.38" stroke="#3d3dc4" stroke-width="2.0"/><line x1="647.15" y1="271.58" x2="647.15" y2="283.38" stroke="#3d3dc4" stroke-width="2.0"/><line x1="639.18" y1="218.21" x2="639.18" y2="337.89" stroke="#3d3dc4" stroke-width="1.05"/><line x1="633.28" y1="218.21" x2="645.08" y2="218.21" stroke="#3d3dc4" stroke-width="2.0"/><line x1="633.28" y1="337.89" x2="645.08" y2="337.89" stroke="#3d3dc4" stroke-width="2.0"/>
<line x1="700.04" y1="297.04" x2="723.23" y2="297.04" stroke="#3d3dc4" stroke-width="1.05"/><line x1="700.04" y1="291.14" x2="700.04" y2="302.94" stroke="#3d3dc4" stroke-width="2.0"/><line x1="723.23" y1="291.14" x2="723.23" y2="302.94" stroke="#3d3dc4" stroke-width="2.0"/><line x1="711.64" y1="204.4" x2="711.64" y2="390.25" stroke="#3d3dc4" stroke-width="1.05"/><line x1="705.74" y1="204.4" x2="717.54" y2="204.4" stroke="#3d3dc4" stroke-width="2.0"/><line x1="705.74" y1="390.25" x2="717.54" y2="390.25" stroke="#3d3dc4" stroke-width="2.0"/>
<line x1="659.1" y1="352.28" x2="677.22" y2="352.28" stroke="#3d3dc4" stroke-width="1.05"/><line x1="659.1" y1="346.38" x2="659.1" y2="358.18" stroke="#3d3dc4" stroke-width="2.0"/><line x1="677.22" y1="346.38" x2="677.22" y2="358.18" stroke="#3d3dc4" stroke-width="2.0"/><line x1="668.16" y1="320.63" x2="668.16" y2="375.29" stroke="#3d3dc4" stroke-width="1.05"/><line x1="662.26" y1="320.63" x2="674.06" y2="320.63" stroke="#3d3dc4" stroke-width="2.0"/><line x1="662.26" y1="375.29" x2="674.06" y2="375.29" stroke="#3d3dc4" stroke-width="2.0"/>
<line x1="659.1" y1="373.57" x2="677.22" y2="373.57" stroke="#3d3dc4" stroke-width="1.05"/><line x1="659.1" y1="367.67" x2="659.1" y2="379.47" stroke="#3d3dc4" stroke-width="2.0"/><line x1="677.22" y1="367.67" x2="677.22" y2="379.47" stroke="#3d3dc4" stroke-width="2.0"/><line x1="668.16" y1="328.69" x2="668.16" y2="396.58" stroke="#3d3dc4" stroke-width="1.05"/><line x1="662.26" y1="328.69" x2="674.06" y2="328.69" stroke="#3d3dc4" stroke-width="2.0"/><line x1="662.26" y1="396.58" x2="674.06" y2="396.58" stroke="#3d3dc4" stroke-width="2.0"/>
<line x1="659.1" y1="435.3" x2="677.22" y2="435.3" stroke="#3d3dc4" stroke-width="1.05"/><line x1="659.1" y1="429.4" x2="659.1" y2="441.2" stroke="#3d3dc4" stroke-width="2.0"/><line x1="677.22" y1="429.4" x2="677.22" y2="441.2" stroke="#3d3dc4" stroke-width="2.0"/><line x1="668.16" y1="395.6" x2="668.16" y2="475.01" stroke="#3d3dc4" stroke-width="1.05"/><line x1="662.26" y1="395.6" x2="674.06" y2="395.6" stroke="#3d3dc4" stroke-width="2.0"/><line x1="662.26" y1="475.01" x2="674.06" y2="475.01" stroke="#3d3dc4" stroke-width="2.0"/>
<line x1="660.48" y1="447.79" x2="690.33" y2="447.79" stroke="#3d3dc4" stroke-width="1.05"/><line x1="660.48" y1="441.89" x2="660.48" y2="453.69" stroke="#3d3dc4" stroke-width="2.0"/><line x1="690.33" y1="441.89" x2="690.33" y2="453.69" stroke="#3d3dc4" stroke-width="2.0"/><line x1="675.41" y1="411.54" x2="675.41" y2="484.04" stroke="#3d3dc4" stroke-width="1.05"/><line x1="669.51" y1="411.54" x2="681.31" y2="411.54" stroke="#3d3dc4" stroke-width="2.0"/><line x1="669.51" y1="484.04" x2="681.31" y2="484.04" stroke="#3d3dc4" stroke-width="2.0"/>
<circle cx="639.18" cy="277.48" r="8.8" fill="#3d3dc4"/>
<circle cx="711.64" cy="297.04" r="8.8" fill="#3d3dc4"/>
<circle cx="668.16" cy="352.28" r="8.8" fill="#3d3dc4"/>
<circle cx="668.16" cy="373.57" r="8.8" fill="#3d3dc4"/>
<circle cx="668.16" cy="435.3" r="8.8" fill="#3d3dc4"/>
<circle cx="675.41" cy="447.79" r="8.8" fill="#3d3dc4"/>
<line x1="595.7" y1="450.09" x2="958" y2="450.09" stroke="#000" stroke-width="2.2"/>
<path d="M647.1,102.9 L647.2,105.4 L647.3,107.9 L647.4,110.4 L647.5,112.9 L647.5,115.4 L647.6,117.9 L647.7,120.4 L647.8,122.9 L647.9,125.4 L647.9,127.9 L648.0,130.4 L648.1,132.9 L648.2,135.4 L648.3,137.9 L648.4,140.4 L648.5,142.9 L648.6,145.4 L648.6,147.9 L648.7,150.4 L648.8,152.9 L648.9,155.4 L649.0,157.9 L649.1,160.4 L649.2,162.9 L649.3,165.4 L649.4,167.9 L649.5,170.4 L649.6,172.9 L649.7,175.4 L649.8,177.9 L649.9,180.4 L650.0,182.9 L650.1,185.4 L650.2,187.9 L650.3,190.4 L650.4,192.9 L650.5,195.4 L650.6,197.9 L650.7,200.5 L650.8,203.0 L650.9,205.5 L651.0,208.0 L651.1,210.5 L651.2,213.0 L651.3,215.5 L651.4,218.0 L651.5,220.5 L651.7,223.0 L651.8,225.5 L651.9,228.0 L652.0,230.5 L652.1,233.0 L652.2,235.5 L652.4,238.0 L652.5,240.5 L652.6,243.0 L652.7,245.5 L652.9,248.0 L653.0,250.5 L653.1,253.0 L653.2,255.5 L653.4,258.0 L653.5,260.5 L653.6,263.0 L653.8,265.5 L653.9,268.0 L654.0,270.5 L654.2,273.0 L654.3,275.5 L654.5,278.0 L654.6,280.5 L654.8,283.0 L654.9,285.5 L655.0,288.0 L655.2,290.5 L655.4,293.0 L655.5,295.5 L655.7,297.9 L655.8,300.4 L656.0,302.9 L656.1,305.4 L656.3,307.9 L656.5,310.4 L656.6,312.9 L656.8,315.4 L657.0,317.9 L657.2,320.4 L657.4,322.9 L657.5,325.4 L657.7,327.9 L657.9,330.4 L658.1,332.9 L658.3,335.4 L658.5,337.9 L658.7,340.4 L658.9,342.9 L659.1,345.4 L659.3,347.9 L659.5,350.4 L659.7,352.9 L660.0,355.4 L660.2,357.9 L660.4,360.3 L660.7,362.8 L660.9,365.3 L661.1,367.8 L661.4,370.3 L661.6,372.8 L661.9,375.3 L662.2,377.8 L662.4,380.3 L662.7,382.8 L663.0,385.2 L663.3,387.7 L663.6,390.2 L663.9,392.7 L664.2,395.2 L664.5,397.7 L664.9,400.1 L665.2,402.6 L665.6,405.1 L665.9,407.6 L666.3,410.1 L666.7,412.5 L667.1,415.0 L667.5,417.5 L667.9,419.9 L668.4,422.4 L668.8,424.9 L669.3,427.3 L669.8,429.8 L670.3,432.2 L670.8,434.7 L671.4,437.1 L672.0,439.5 L672.6,442.0 L673.3,444.4 L674.0,446.8 L674.7,449.2 L675.5,451.6 L676.3,453.9 L677.3,456.2 L678.2,458.5 L679.3,460.8 L680.4,463.0 L681.7,465.2 L683.1,467.3 L684.6,469.3 L686.3,471.1 L688.2,472.8 L690.2,474.2 L692.4,475.4 L694.7,476.3 L697.2,476.9 L699.6,477.3 L702.1,477.5 L704.6,477.4 L707.1,477.3 L709.6,477.0 L712.1,476.6 L714.6,476.2 L717.0,475.7 L719.5,475.2 L721.9,474.6 L724.4,474.1 L726.8,473.5 L729.2,472.9 L731.7,472.3 L734.1,471.8 L736.5,471.2 L739.0,470.6 L741.4,470.1 L743.8,469.5 L746.3,469.0 L748.7,468.4 L751.2,467.9 L753.6,467.4 L756.1,466.9 L758.5,466.4 L761.0,465.9 L763.5,465.4 L765.9,465.0 L768.4,464.6 L770.9,464.1 L773.3,463.7 L775.8,463.3 L778.3,462.9 L780.7,462.5 L783.2,462.2 L785.7,461.8 L788.2,461.4 L790.6,461.1 L793.1,460.8 L795.6,460.5 L798.1,460.1 L800.6,459.8 L803.1,459.5 L805.6,459.3 L808.0,459.0 L810.5,458.7 L813.0,458.5 L815.5,458.2 L818.0,458.0 L820.5,457.7 L823.0,457.5 L825.5,457.3 L828.0,457.0 L830.5,456.8 L833.0,456.6 L835.5,456.4 L838.0,456.2 L840.4,456.1 L842.9,455.9 L845.4,455.7 L847.9,455.5 L850.4,455.4 L852.9,455.2 L855.4,455.1 L857.9,454.9 L860.4,454.8 L862.9,454.6 L865.4,454.5 L867.9,454.3 L870.4,454.2 L872.9,454.1 L875.4,454.0 L877.9,453.9 L880.4,453.7 L882.9,453.6 L885.4,453.5 L887.9,453.4 L890.4,453.3 L892.9,453.2 L895.4,453.1 L897.9,453.0 L900.4,452.9 L902.9,452.9 L905.4,452.8 L907.9,452.7 L910.5,452.6 L913.0,452.5 L915.5,452.5 L918.0,452.4 L920.5,452.3 L923.0,452.2 L925.5,452.2 L928.0,452.1 L930.5,452.1 L933.0,452.0 L935.5,451.9 L938.0,451.9 L940.5,451.8 L943.0,451.8 L945.5,451.7 L948.0,451.7 L950.5,451.6 L953.0,451.6 L955.5,451.5 L958.0,451.5" fill="none" stroke="#000" stroke-width="2.6" stroke-linejoin="round"/>
<path d="M639.1,103.2 L639.2,105.8 L639.3,108.3 L639.4,110.9 L639.5,113.4 L639.6,116.0 L639.7,118.5 L639.8,121.1 L639.9,123.6 L640.0,126.2 L640.1,128.7 L640.2,131.3 L640.3,133.8 L640.4,136.3 L640.5,138.9 L640.6,141.4 L640.7,144.0 L640.8,146.5 L640.9,149.1 L641.0,151.6 L641.1,154.2 L641.2,156.7 L641.3,159.3 L641.4,161.8 L641.5,164.4 L641.6,166.9 L641.7,169.5 L641.8,172.0 L641.9,174.5 L642.0,177.1 L642.2,179.6 L642.3,182.2 L642.4,184.7 L642.5,187.3 L642.6,189.8 L642.7,192.4 L642.8,194.9 L643.0,197.5 L643.1,200.0 L643.2,202.6 L643.3,205.1 L643.4,207.6 L643.6,210.2 L643.7,212.7 L643.8,215.3 L643.9,217.8 L644.1,220.4 L644.2,222.9 L644.3,225.5 L644.4,228.0 L644.6,230.6 L644.7,233.1 L644.8,235.7 L645.0,238.2 L645.1,240.7 L645.3,243.3 L645.4,245.8 L645.5,248.4 L645.7,250.9 L645.8,253.5 L646.0,256.0 L646.1,258.6 L646.3,261.1 L646.4,263.6 L646.6,266.2 L646.7,268.7 L646.9,271.3 L647.0,273.8 L647.2,276.4 L647.3,278.9 L647.5,281.5 L647.6,284.0 L647.8,286.5 L648.0,289.1 L648.1,291.6 L648.3,294.2 L648.5,296.7 L648.7,299.3 L648.8,301.8 L649.0,304.3 L649.2,306.9 L649.4,309.4 L649.6,312.0 L649.8,314.5 L649.9,317.1 L650.1,319.6 L650.3,322.1 L650.5,324.7 L650.7,327.2 L650.9,329.8 L651.1,332.3 L651.3,334.8 L651.6,337.4 L651.8,339.9 L652.0,342.5 L652.2,345.0 L652.4,347.5 L652.7,350.1 L652.9,352.6 L653.1,355.2 L653.4,357.7 L653.6,360.2 L653.9,362.8 L654.1,365.3 L654.4,367.8 L654.7,370.4 L654.9,372.9 L655.2,375.4 L655.5,378.0 L655.8,380.5 L656.1,383.0 L656.4,385.6 L656.7,388.1 L657.0,390.6 L657.3,393.2 L657.6,395.7 L658.0,398.2 L658.3,400.7 L658.7,403.3 L659.0,405.8 L659.4,408.3 L659.8,410.8 L660.2,413.3 L660.6,415.9 L661.0,418.4 L661.4,420.9 L661.9,423.4 L662.3,425.9 L662.8,428.4 L663.3,430.9 L663.8,433.4 L664.4,435.9 L664.9,438.4 L665.5,440.9 L666.1,443.3 L666.8,445.8 L667.4,448.3 L668.1,450.7 L668.9,453.1 L669.7,455.6 L670.5,458.0 L671.4,460.4 L672.4,462.7 L673.5,465.0 L674.6,467.3 L675.9,469.5 L677.2,471.7 L678.8,473.7 L680.5,475.6 L682.3,477.3 L684.4,478.8 L686.7,480.0 L689.1,480.8 L691.6,481.3 L694.1,481.5 L696.7,481.4 L699.2,481.1 L701.7,480.6 L704.2,480.0 L706.6,479.3 L709.0,478.5 L711.5,477.7 L713.9,476.9 L716.3,476.0 L718.6,475.1 L721.0,474.2 L723.4,473.3 L725.8,472.4 L728.2,471.5 L730.6,470.7 L733.0,469.8 L735.4,469.0 L737.8,468.2 L740.2,467.4 L742.7,466.6 L745.1,465.9 L747.6,465.2 L750.0,464.5 L752.5,463.8 L754.9,463.2 L757.4,462.6 L759.9,462.0 L762.4,461.4 L764.9,460.9 L767.4,460.3 L769.9,459.8 L772.4,459.4 L774.9,458.9 L777.4,458.5 L779.9,458.1 L782.4,457.7 L784.9,457.3 L787.5,456.9 L790.0,456.6 L792.5,456.3 L795.0,455.9 L797.6,455.6 L800.1,455.4 L802.6,455.1 L805.2,454.8 L807.7,454.6 L810.3,454.4 L812.8,454.2 L815.3,454.0 L817.9,453.8 L820.4,453.6 L823.0,453.4 L825.5,453.2 L828.1,453.1 L830.6,452.9 L833.1,452.8 L835.7,452.6 L838.2,452.5 L840.8,452.4 L843.3,452.3 L845.9,452.2 L848.4,452.1 L851.0,452.0 L853.5,451.9 L856.1,451.8 L858.6,451.7 L861.2,451.6 L863.7,451.5 L866.2,451.4 L868.8,451.4 L871.3,451.3 L873.9,451.3 L876.4,451.2 L879.0,451.1 L881.5,451.1 L884.1,451.0 L886.6,451.0 L889.2,450.9 L891.7,450.9 L894.3,450.9 L896.8,450.8 L899.4,450.8 L901.9,450.7 L904.5,450.7 L907.0,450.7 L909.6,450.6 L912.1,450.6 L914.7,450.6 L917.2,450.6 L919.8,450.5 L922.3,450.5 L924.9,450.5 L927.4,450.5 L930.0,450.5 L932.5,450.4 L935.1,450.4 L937.6,450.4 L940.2,450.4 L942.7,450.4 L945.3,450.4 L947.8,450.3 L950.4,450.3 L952.9,450.3 L955.5,450.3 L958.0,450.3" fill="none" stroke="#999999" stroke-width="2.4" stroke-linejoin="round"/>
</g>
<text transform="translate(631.23,567) scale(1.0,1)" font-size="24.3" text-anchor="middle" class="in">20</text>
<text transform="translate(703.69,567) scale(1.0,1)" font-size="24.3" text-anchor="middle" class="in">30</text>
<text transform="translate(776.15,567) scale(1.0,1)" font-size="24.3" text-anchor="middle" class="in">40</text>
<text transform="translate(848.61,567) scale(1.0,1)" font-size="24.3" text-anchor="middle" class="in">50</text>
<text transform="translate(921.07,567) scale(1.0,1)" font-size="24.3" text-anchor="middle" class="in">60</text>
<text transform="translate(585.4,170.8) scale(1.0,1)" font-size="24.3" text-anchor="end" class="in">500</text>
<text transform="translate(585.4,228.34) scale(1.0,1)" font-size="24.3" text-anchor="end" class="in">400</text>
<text transform="translate(585.4,285.88) scale(1.0,1)" font-size="24.3" text-anchor="end" class="in">300</text>
<text transform="translate(585.4,343.42) scale(1.0,1)" font-size="24.3" text-anchor="end" class="in">200</text>
<text transform="translate(585.4,400.95) scale(1.0,1)" font-size="24.3" text-anchor="end" class="in">100</text>
<text transform="translate(585.4,458.49) scale(1.0,1)" font-size="24.3" text-anchor="end" class="in">0</text>
<text transform="translate(585.4,516.03) scale(1.0,1)" font-size="24.3" text-anchor="end" class="in">-100</text>
<text x="725.2" y="597.2" font-size="26" class="ib"><tspan font-style="italic">d</tspan><tspan font-size="20.5" dy="11.5">Nb</tspan><tspan dy="-11.5" dx="1.4"> (nm)</tspan></text>
<g transform="translate(526.8,0) rotate(-90)" font-size="26.6" class="ib">
<text transform="translate(-406.3,0) scale(1.16,1)" x="0" y="0" font-size="29" style="font-family:'Liberation Serif','DejaVu Serif',serif" class="ib">&#916;</text>
<text x="-384" y="0" class="ib"><tspan font-style="italic">T</tspan>c</text>
<text x="-347.7" y="0" class="ib">(mK)</text>
</g>
</svg></body></html>
